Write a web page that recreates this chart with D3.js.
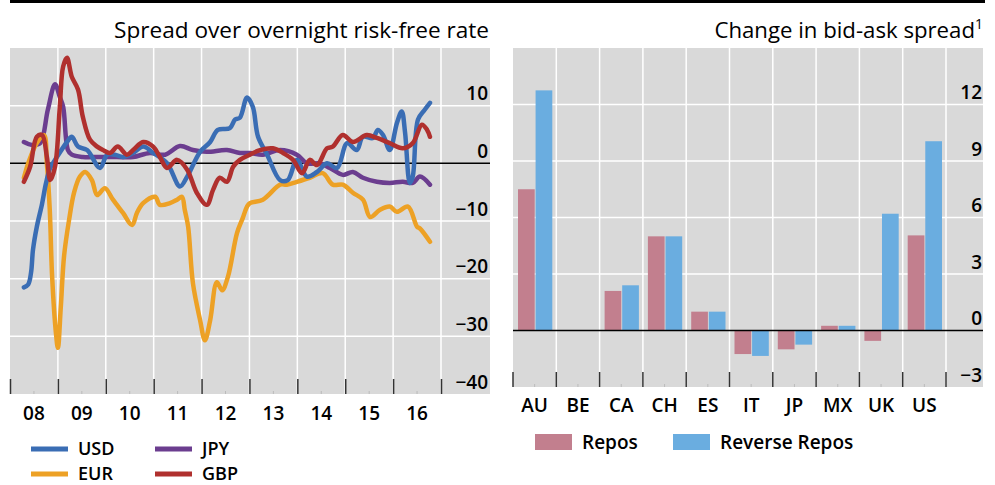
<!DOCTYPE html>
<html>
<head>
<meta charset="utf-8">
<script src="https://cdn.jsdelivr.net/npm/d3@7"></script>
<style>
   body { margin: 0; background: #fff; }
   text { font-family: "Open Sans", sans-serif; fill: #000; }
   .lbl { font-size: 19px; font-weight: 600; }
</style>
</head>
<body>
<svg id="chart" width="995" height="485"></svg>
<script>
// left panel: spread over overnight risk-free rate (bp), [decimal year, value]
const yearLabels = ["08", "09", "10", "11", "12", "13", "14", "15", "16"];
const leftTicks = [-40, -30, -20, -10, 0, 10];

const usd = [[2008.29, -21.5], [2008.38, -21], [2008.44, -18.9], [2008.48, -15], [2008.56, -11], [2008.67, -7],
   [2008.75, -3.5], [2008.84, -0.8], [2008.98, 1.1], [2009.19, 3.7], [2009.29, 4.6], [2009.42, 2.9], [2009.61, 2.3],
   [2009.88, -0.8], [2010.03, 1.5], [2010.19, 1.5], [2010.36, 1.1], [2010.57, 1.8], [2010.78, 2.9], [2010.99, 1.8],
   [2011.28, 0], [2011.55, -4], [2011.70, -2.3], [2011.97, 2], [2012.18, 3.7], [2012.34, 5.8], [2012.59, 6.1],
   [2012.70, 7.6], [2012.80, 7.9], [2012.95, 11.4], [2013.07, 9.8], [2013.18, 4.6], [2013.37, 1.5], [2013.64, -2.9],
   [2013.80, -2.9], [2013.99, 0.6], [2014.20, -2.3], [2014.41, -1.5], [2014.62, 0], [2014.83, -0.8], [2015.04, 3.5],
   [2015.24, 2.3], [2015.37, 4.6], [2015.58, 4.4], [2015.68, 5.8], [2015.79, 4.9], [2015.93, 2.3], [2016.08, 7],
   [2016.18, 9], [2016.25, 5.3], [2016.35, -3.4], [2016.41, -2.3], [2016.52, 7.6], [2016.66, 9.3], [2016.77, 10.5]];

const eur = [[2008.29, -2.5], [2008.40, 0.5], [2008.56, 3.5], [2008.71, 4.9], [2008.77, 0], [2008.83, -8],
   [2008.88, -19.7], [2008.96, -29.5], [2009.00, -32], [2009.06, -25], [2009.13, -16], [2009.23, -10], [2009.34, -5],
   [2009.46, -2.3], [2009.57, -1.5], [2009.71, -2.9], [2009.82, -5.5], [2009.98, -4.3], [2010.15, -6.3], [2010.36, -8.6],
   [2010.55, -10.7], [2010.65, -8.6], [2010.78, -6.9], [2011.03, -5.8], [2011.13, -7.2], [2011.34, -6.9], [2011.49, -6.3],
   [2011.59, -5.8], [2011.65, -8.1], [2011.72, -11], [2011.82, -20.8], [2011.97, -27.2], [2012.07, -30.7], [2012.18, -27.2],
   [2012.32, -20.6], [2012.43, -22], [2012.55, -19.7], [2012.74, -12.1], [2012.86, -9.5], [2012.95, -7.5], [2013.01, -6.9],
   [2013.28, -6.3], [2013.64, -3.7], [2013.78, -3.7], [2013.99, -3.2], [2014.26, -2.5], [2014.53, -1.7], [2014.74, -3.7],
   [2014.95, -3.7], [2015.16, -5.1], [2015.37, -6.3], [2015.52, -9.3], [2015.72, -8.1], [2015.93, -7.5], [2016.08, -8.4],
   [2016.31, -7.5], [2016.50, -11], [2016.56, -11.3], [2016.77, -13.6]];

const jpy = [[2008.29, 3.7], [2008.46, 3.2], [2008.63, 3.5], [2008.79, 9.3], [2008.94, 13.7], [2009.04, 11.5],
   [2009.11, 9.8], [2009.21, 2.3], [2009.29, 1.5], [2009.52, 1.1], [2009.88, 1.1], [2010.23, 1.1], [2010.57, 1.1],
   [2010.92, 1.8], [2011.24, 1.5], [2011.55, 3.0], [2011.82, 2.3], [2012.11, 2.0], [2012.53, 2.3], [2012.80, 1.8],
   [2013.01, 1.8], [2013.28, 1.5], [2013.64, 2.3], [2013.99, 1.5], [2014.20, 0], [2014.47, 0], [2014.68, -0.8],
   [2014.95, -2], [2015.16, -1.5], [2015.37, -2.5], [2015.66, -3.2], [2015.93, -3.4], [2016.20, -3.2], [2016.41, -3.4],
   [2016.56, -2.3], [2016.77, -3.7]];

const gbp = [[2008.29, -3.2], [2008.42, -0.6], [2008.56, 4.6], [2008.67, 4.9], [2008.77, 1.1], [2008.84, -2.9],
   [2008.94, -0.6], [2009.04, 9.8], [2009.11, 16.8], [2009.19, 18.3], [2009.29, 15], [2009.42, 12.8], [2009.52, 8.1],
   [2009.67, 4.1], [2009.82, 2.9], [2009.94, 2.3], [2010.09, 1.8], [2010.25, 2.9], [2010.44, 1.5], [2010.57, 2.3],
   [2010.78, 3.7], [2010.99, 2.9], [2011.13, 1.1], [2011.28, -0.8], [2011.49, 0.6], [2011.70, -1.1], [2011.90, -5.1],
   [2012.11, -7.2], [2012.24, -4.6], [2012.38, -2.5], [2012.53, -3.2], [2012.66, -0.6], [2012.80, 0.6], [2013.01, 1.5],
   [2013.22, 2.3], [2013.49, 2.6], [2013.70, 1.8], [2013.91, 0.6], [2014.10, -1.7], [2014.26, 0.6], [2014.41, -0.3],
   [2014.62, 2.6], [2014.74, 2.9], [2014.95, 4.9], [2015.16, 3.7], [2015.45, 4.9], [2015.66, 4.4], [2015.93, 3.5],
   [2016.20, 2.6], [2016.41, 3.5], [2016.60, 6.7], [2016.71, 5.8], [2016.77, 4.6]];

// right panel: change in bid-ask spread
const countries = ["AU", "BE", "CA", "CH", "ES", "IT", "JP", "MX", "UK", "US"];
const repos = [7.5, 0, 2.1, 5.0, 1.0, -1.25, -1.0, 0.25, -0.55, 5.05];
const reverseRepos = [12.75, 0, 2.4, 5.0, 1.0, -1.35, -0.75, 0.25, 6.2, 10.05];
const rightTicks = [-3, 0, 3, 6, 9, 12];

const panelFill = "#d9d9d9";
const lineSeries = [
   { name: "JPY", data: jpy, color: "#6b3d8f" },
   { name: "EUR", data: eur, color: "#eda125" },
   { name: "USD", data: usd, color: "#3a6db4" },
   { name: "GBP", data: gbp, color: "#b0302e" },
];
const barColors = { repos: "#c27f8e", reverse: "#6aade0" };

const svg = d3.select("#chart");

// top rule
svg.append("line")
   .attr("x1", 10).attr("x2", 985)
   .attr("y1", 1.5).attr("y2", 1.5)
   .attr("stroke", "#000").attr("stroke-width", 3);

// ---------- left panel ----------
const x = d3.scaleLinear().domain([2008, 2017]).range([10, 441]);
const y = d3.scaleLinear().domain([-40, 20]).range([394, 48]);

const left = svg.append("g");

left.append("rect")
   .attr("x", 10).attr("y", 48)
   .attr("width", 480).attr("height", 346)
   .attr("fill", panelFill);

left.append("text")
   .attr("x", 489).attr("y", 38)
   .attr("text-anchor", "end")
   .style("font-size", "22.6px")
   .text("Spread over overnight risk-free rate");

// grid
left.append("g")
   .selectAll("line")
   .data(d3.range(2009, 2018))
   .join("line")
   .attr("x1", d => x(d)).attr("x2", d => x(d))
   .attr("y1", 48).attr("y2", 394)
   .attr("stroke", "#fff").attr("stroke-width", 1.5);

left.append("g")
   .selectAll("line")
   .data(leftTicks.filter(d => d !== 0 && d !== -40))
   .join("line")
   .attr("x1", 10).attr("x2", 490)
   .attr("y1", d => y(d)).attr("y2", d => y(d))
   .attr("stroke", "#fff").attr("stroke-width", 1.5);

// x axis: year boundaries as ticks, labels in between
const xAxis = left.append("g")
   .attr("transform", "translate(0,394)")
   .call(d3.axisTop(x).tickValues(d3.range(2008, 2018)).tickSize(15).tickFormat(""));
xAxis.select(".domain").remove();
xAxis.selectAll("line").attr("stroke", "#333").attr("stroke-width", 1.5);

left.append("g")
   .selectAll("line")
   .data(yearLabels)
   .join("line")
   .attr("x1", (d, i) => x(2008.5 + i)).attr("x2", (d, i) => x(2008.5 + i))
   .attr("y1", 391).attr("y2", 394)
   .attr("stroke", "#bbb");

left.append("g")
   .selectAll("text")
   .data(yearLabels)
   .join("text")
   .attr("class", "lbl")
   .attr("x", (d, i) => x(2008.5 + i))
   .attr("y", 420)
   .attr("text-anchor", "middle")
   .text(d => d);

// y labels sit above their gridlines on the right
const yAxis = left.append("g")
   .attr("transform", "translate(488,0)")
   .call(d3.axisLeft(y).tickValues(leftTicks).tickSize(0).tickFormat(d => d < 0 ? "\u2212" + Math.abs(d) : d));
yAxis.select(".domain").remove();
yAxis.selectAll("text")
   .attr("class", "lbl")
   .attr("x", 0).attr("dy", "-6px")
   .attr("text-anchor", "end")
   .style("font-family", "'Open Sans', sans-serif");

left.append("line")
   .attr("x1", 10).attr("x2", 490)
   .attr("y1", y(0)).attr("y2", y(0))
   .attr("stroke", "#000").attr("stroke-width", 1.5);

const line = d3.line()
   .x(d => x(d[0]))
   .y(d => y(d[1]))
   .curve(d3.curveCatmullRom.alpha(0.5));

left.append("g")
   .selectAll("path")
   .data(lineSeries)
   .join("path")
   .attr("d", d => line(d.data))
   .attr("fill", "none")
   .attr("stroke", d => d.color)
   .attr("stroke-width", 4.5)
   .attr("stroke-linejoin", "round")
   .attr("stroke-linecap", "round");

// legend
const legendOrder = ["USD", "EUR", "JPY", "GBP"];
const legend = left.append("g")
   .selectAll("g")
   .data(legendOrder)
   .join("g")
   .attr("transform", (d, i) => `translate(${i < 2 ? 31 : 155},${i % 2 ? 474 : 449})`);

legend.append("line")
   .attr("x1", 0).attr("x2", 37)
   .attr("stroke", d => lineSeries.find(s => s.name === d).color)
   .attr("stroke-width", 5);

legend.append("text")
   .attr("class", "lbl")
   .style("font-size", "18px")
   .attr("x", 47).attr("y", 6)
   .text(d => d);

// ---------- right panel ----------
const xb = d3.scaleBand().domain(countries).range([513, 946]);
const xs = d3.scaleBand().domain(["repos", "reverse"]).range([5, xb.bandwidth() - 4]).paddingInner(0.05);
const yb = d3.scaleLinear().domain([-3, 15]).range([387, 48]);

const right = svg.append("g");

right.append("rect")
   .attr("x", 513).attr("y", 48)
   .attr("width", 470).attr("height", 339)
   .attr("fill", panelFill);

const title2 = right.append("text")
   .attr("x", 983).attr("y", 38)
   .attr("text-anchor", "end")
   .style("font-size", "22.2px");
title2.append("tspan").text("Change in bid-ask spread");
title2.append("tspan").attr("dy", "-9").style("font-size", "14px").text("1");

right.append("g")
   .selectAll("line")
   .data(d3.range(1, countries.length + 1))
   .join("line")
   .attr("x1", d => 513 + xb.step() * d)
   .attr("x2", d => 513 + xb.step() * d)
   .attr("y1", 48).attr("y2", 387)
   .attr("stroke", "#fff").attr("stroke-width", 1.5);

right.append("g")
   .selectAll("line")
   .data(rightTicks.filter(d => d > 0))
   .join("line")
   .attr("x1", 513).attr("x2", 983)
   .attr("y1", d => yb(d)).attr("y2", d => yb(d))
   .attr("stroke", "#fff").attr("stroke-width", 1.5);

right.append("g")
   .selectAll("line")
   .data(d3.range(countries.length + 1))
   .join("line")
   .attr("x1", d => 513 + xb.step() * d).attr("x2", d => 513 + xb.step() * d)
   .attr("y1", 372).attr("y2", 387)
   .attr("stroke", "#333").attr("stroke-width", 1.5);

right.append("g")
   .selectAll("line")
   .data(countries)
   .join("line")
   .attr("x1", d => xb(d) + xb.bandwidth() / 2).attr("x2", d => xb(d) + xb.bandwidth() / 2)
   .attr("y1", 384).attr("y2", 387)
   .attr("stroke", "#bbb");

const bars = countries.map((c, i) => [
   { c, key: "repos", v: repos[i] },
   { c, key: "reverse", v: reverseRepos[i] },
]).flat().filter(d => d.v !== 0);

right.append("g")
   .selectAll("rect")
   .data(bars)
   .join("rect")
   .attr("x", d => xb(d.c) + xs(d.key))
   .attr("width", xs.bandwidth())
   .attr("y", d => yb(Math.max(0, d.v)))
   .attr("height", d => Math.abs(yb(d.v) - yb(0)))
   .attr("fill", d => barColors[d.key]);

right.append("line")
   .attr("x1", 513).attr("x2", 983)
   .attr("y1", yb(0)).attr("y2", yb(0))
   .attr("stroke", "#000").attr("stroke-width", 1.5);

const yAxis2 = right.append("g")
   .attr("transform", "translate(982,0)")
   .call(d3.axisLeft(yb).tickValues(rightTicks).tickSize(0).tickFormat(d => d < 0 ? "\u2212" + Math.abs(d) : d));
yAxis2.select(".domain").remove();
yAxis2.selectAll("text")
   .attr("class", "lbl")
   .attr("x", 0).attr("dy", "-6px")
   .attr("text-anchor", "end")
   .style("font-family", "'Open Sans', sans-serif");

right.append("g")
   .selectAll("text")
   .data(countries)
   .join("text")
   .attr("class", "lbl")
   .attr("x", d => xb(d) + xb.bandwidth() / 2)
   .attr("y", 412)
   .attr("text-anchor", "middle")
   .text(d => d);

const legend2 = right.append("g")
   .selectAll("g")
   .data([{ key: "repos", label: "Repos", x: 535 }, { key: "reverse", label: "Reverse Repos", x: 673 }])
   .join("g")
   .attr("transform", d => `translate(${d.x},434)`);

legend2.append("rect")
   .attr("width", 37).attr("height", 16)
   .attr("fill", d => barColors[d.key]);

legend2.append("text")
   .attr("class", "lbl")
   .attr("x", 47).attr("y", 15)
   .text(d => d.label);
</script>
</body>
</html>
